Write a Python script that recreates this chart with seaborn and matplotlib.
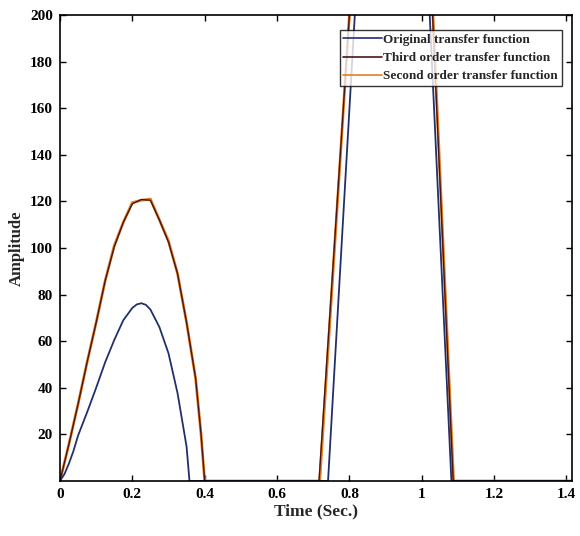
import numpy as np
import pandas as pd
import seaborn as sns
import matplotlib
matplotlib.use("Agg")
import matplotlib.pyplot as plt

# ---- data ----
t_orig = [0, 0.0125, 0.025, 0.0375, 0.05, 0.075, 0.1, 0.125, 0.15, 0.175, 0.2, 0.2125, 0.225, 0.2375, 0.25,
          0.275, 0.3, 0.325, 0.35, 0.358,
          0.741, 0.815, 0.92, 1.022, 1.082, 1.10, 1.42]
a_orig = [0, 3, 7.6, 13, 19.5, 29.5, 40, 51, 60.5, 69, 74.3, 75.8, 76.3, 75.6, 73.6,
          66, 54.8, 37.7, 14.7, 0,
          0, 200, 330, 200, 0, 0, 0]

t_third = [0, 0.025, 0.05, 0.075, 0.1, 0.125, 0.15, 0.175, 0.2, 0.225, 0.25, 0.275, 0.3, 0.325, 0.35, 0.375, 0.39, 0.40,
           0.716, 0.80, 0.92, 1.030, 1.087, 1.10, 1.42]
a_third = [0, 16, 33, 51, 68, 86, 100.5, 111, 119, 120.8, 120.5, 112, 102.5, 89, 68, 44, 20, 0,
           0, 200, 330, 200, 0, 0, 0]

t_second = [0, 0.025, 0.05, 0.075, 0.1, 0.125, 0.15, 0.175, 0.2, 0.225, 0.25, 0.275, 0.3, 0.325, 0.35, 0.375, 0.39, 0.40,
            0.718, 0.80, 0.92, 1.031, 1.088, 1.10, 1.42]
a_second = [0, 16, 33, 51, 68, 86, 101, 111, 119.5, 120.5, 121, 112, 103, 89, 68, 44, 20, 0,
            0, 200, 330, 200, 0, 0, 0]

labels = ["Original transfer function", "Third order transfer function", "Second order transfer function"]
colors = ["#22306a", "#4a1510", "#e0802a"]
widths = [1.3, 1.0, 2.0]

x_ticks = [0, 0.2, 0.4, 0.6, 0.8, 1.0, 1.2, 1.4]
x_tick_labels = ["0", "0.2", "0.4", "0.6", "0.8", "1", "1.2", "1.4"]
y_ticks = [20, 40, 60, 80, 100, 120, 140, 160, 180, 200]

sns.set_theme(style="white")
plt.rcParams["font.family"] = ["Liberation Serif", "DejaVu Serif"]

fig = plt.figure(figsize=(5.8, 5.36), dpi=100)
ax = fig.add_axes([0.1034, 0.1026, 0.8826, 0.8694])

series = [(t_orig, a_orig), (t_third, a_third), (t_second, a_second)]
for idx in [2, 1, 0]:
    t, a = series[idx]
    df = pd.DataFrame({"t": t, "a": a})
    sns.lineplot(data=df, x="t", y="a", ax=ax, color=colors[idx], lw=widths[idx],
                 sort=False, estimator=None, label=labels[idx])

ax.set_xlim(0, 1.415)
ax.set_ylim(0, 200)
ax.set_xticks(x_ticks)
ax.set_xticklabels(x_tick_labels)
ax.set_yticks(y_ticks)
ax.set_yticklabels([str(v) for v in y_ticks])
for lab in ax.get_xticklabels() + ax.get_yticklabels():
    lab.set_fontweight("bold")
    lab.set_fontsize(11)
ax.tick_params(direction="in", length=4, width=1, top=True, right=True,
               bottom=True, left=True, colors="black", pad=5)
for s in ax.spines.values():
    s.set_color("black")
    s.set_linewidth(1.2)

ax.set_xlabel("Time (Sec.)", fontsize=12.5, fontweight="bold", labelpad=2)
ax.set_ylabel("Amplitude", fontsize=12, fontweight="bold", labelpad=4)

h, l = ax.get_legend_handles_labels()
order = [l.index(x) for x in labels]
leg = ax.legend([h[i] for i in order], [l[i] for i in order], loc="upper right",
                bbox_to_anchor=(0.98, 0.968), frameon=True, fancybox=False,
                prop={"weight": "bold", "size": 9.5}, handlelength=2.9,
                handletextpad=0.1, borderpad=0.3, labelspacing=0.45, borderaxespad=0)
leg.get_frame().set_edgecolor("black")
leg.get_frame().set_linewidth(1.0)
for line in leg.get_lines():
    line.set_linewidth(1.2)

fig.savefig("out.png", dpi=100, facecolor="white")
